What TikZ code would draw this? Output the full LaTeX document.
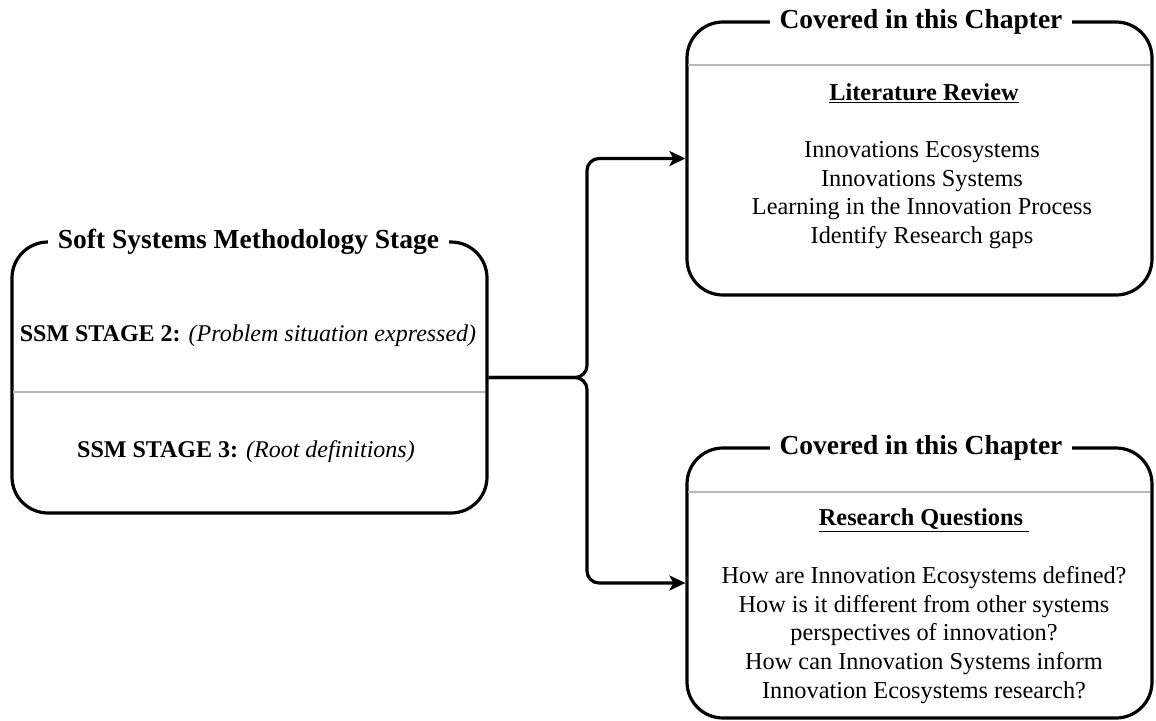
\documentclass[tikz,border=0pt]{standalone}
\usepackage{fontspec}
\setmainfont{Liberation Serif}
\usetikzlibrary{arrows.meta,calc}

\begin{document}
\begin{tikzpicture}[x=1pt,y=-1pt,
  panel/.style={draw=black, line width=3.2pt, rounded corners=36pt, inner sep=0pt},
  paneltitle/.style={fill=white, inner xsep=10pt, inner ysep=2pt,
    font=\fontsize{27.5}{31}\selectfont\bfseries},
  divider/.style={draw=black!28, line width=2pt},
  body/.style={align=center, font=\fontsize{24.3}{28.8}\selectfont},
  stagetext/.style={font=\fontsize{24}{28}\selectfont},
  link/.style={draw=black, line width=3.2pt, rounded corners=12pt,
    -{Stealth[length=16pt,width=15pt,inset=4pt]}}]

\useasboundingbox (0,0) rectangle (1156,720);

% --- left panel: SSM stages ---
\node[panel, minimum width=475pt, minimum height=271pt] (ssm) at (249.5,377.5) {};
\draw[divider] (13,392) -- (485,392);
\node[paneltitle] (ssmtitle) at (248.5,242) {Soft Systems Methodology Stage};
\node[stagetext] (stage2) at (248,336) {\textbf{SSM STAGE 2:} \textit{(Problem situation expressed)}};
\node[stagetext] (stage3) at (246,452) {\textbf{SSM STAGE 3:} \textit{(Root definitions)}};

% --- upper right panel: literature review ---
\node[panel, minimum width=465pt, minimum height=273pt] (lit) at (919.5,158.5) {};
\draw[divider] (688,65) -- (1150,65);
\node[paneltitle] (littitle) at (921,22) {Covered in this Chapter};
\node[body, font=\fontsize{24.3}{28}\selectfont\bfseries] (lithead) at (924,93) {\underline{Literature Review}};
\node[body] (litlist) at (922,195) {Innovations Ecosystems\\ Innovations Systems\\ Learning in the Innovation Process\\ Identify Research gaps};

% --- lower right panel: research questions ---
\node[panel, minimum width=465pt, minimum height=270pt] (rq) at (919.5,583) {};
\draw[divider] (688,492) -- (1150,492);
\node[paneltitle] (rqtitle) at (921,448) {Covered in this Chapter};
\node[body, font=\fontsize{24.3}{28}\selectfont\bfseries] (rqhead) at (924,520) {\underline{Research Questions\ }};
\node[body] (rqlist) at (924,635) {How are Innovation Ecosystems defined?\\ How is it different from other systems\\ perspectives of innovation?\\ How can Innovation Systems inform\\ Innovation Ecosystems research?};

% --- branching connector ---
\coordinate (fork) at (587,377.5);
\draw[link] (ssm.east) -- (fork) |- (lit.west);
\draw[link] (ssm.east) -- (fork) |- (rq.west);

\end{tikzpicture}
\end{document}
